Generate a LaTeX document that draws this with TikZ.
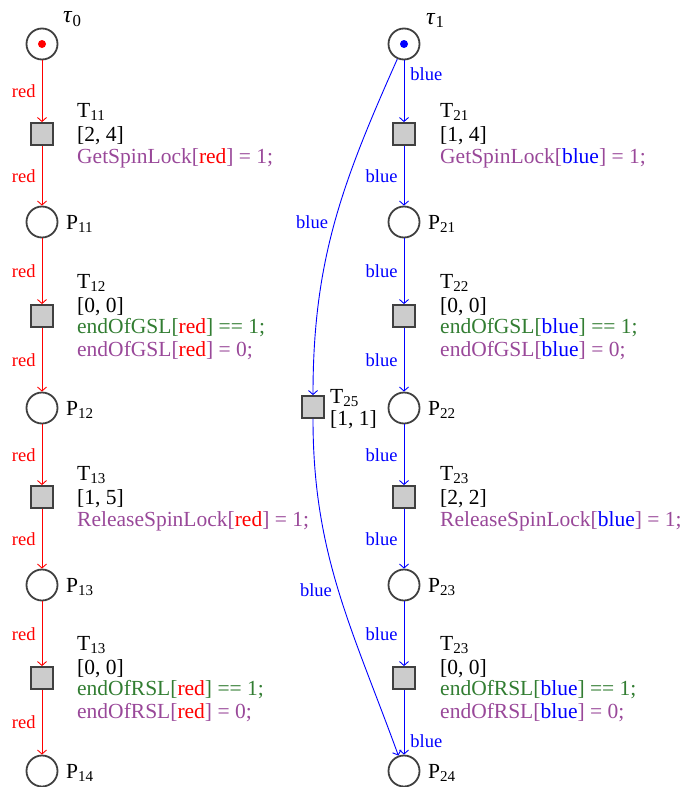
\documentclass[tikz,border=0pt]{standalone}
\usepackage{fontspec}
\setmainfont{Liberation Serif}
\usetikzlibrary{arrows.meta}
\definecolor{purp}{RGB}{153,72,153}
\definecolor{grn}{RGB}{50,125,50}
\definecolor{edgegray}{RGB}{64,64,64}
\newcommand\sbs[1]{\textsubscript{#1}}
\newcommand\pr[1]{\textcolor{purp}{#1}}
\newcommand\gr[1]{\textcolor{grn}{#1}}
\newcommand\rd{\textcolor{red}{red}}
\newcommand\bl{\textcolor{blue}{blue}}
\begin{document}
\begin{tikzpicture}[x=1pt,y=-1pt,
  place/.style={circle,draw=edgegray,line width=1.8pt,minimum size=31pt,inner sep=0pt},
  trans/.style={rectangle,draw=edgegray,line width=1.8pt,fill=black!20,minimum size=22pt,inner sep=0pt},
  txt/.style={anchor=base west,inner sep=0pt,font=\fontsize{21.5}{24}\selectfont},
  lbl/.style={font=\fontsize{18.5}{20}\selectfont,inner sep=6pt},
  rarc/.style={draw=red,line width=0.9pt,-{Straight Barb[length=4pt,width=9pt]}},
  barc/.style={draw=blue,line width=0.9pt,-{Straight Barb[length=4pt,width=9pt]}},
  token/.style={circle,inner sep=0pt,minimum size=8pt}]
\useasboundingbox (0,0) rectangle (684,787);

% ---------- left column ----------
\node[place] (tau0) at (42,44) {};
\node[token,fill=red] (tok0) at (42,44) {};
\node[trans] (T11) at (42,134) {};
\node[place] (P11) at (42,222) {};
\node[trans] (T12) at (42,316) {};
\node[place] (P12) at (42,408) {};
\node[trans] (T13) at (42,497) {};
\node[place] (P13) at (42,585) {};
\node[trans] (T14) at (42,678) {};
\node[place] (P14) at (42,771) {};

\node[txt,font=\fontsize{24}{26}\selectfont] (ltau0) at (63,23) {\textit{τ}\sbs{0}};
\node[txt] (lP11) at (66,229) {P\sbs{11}};
\node[txt] (lP12) at (66,415) {P\sbs{12}};
\node[txt] (lP13) at (66,592) {P\sbs{13}};
\node[txt] (lP14) at (66,778) {P\sbs{14}};

\node[txt] (a1) at (77,117) {T\sbs{11}};
\node[txt] (a2) at (77,141) {[2, 4]};
\node[txt] (a3) at (77,163) {\pr{GetSpinLock[}\rd\pr{] = 1;}};

\node[txt] (b1) at (77,288) {T\sbs{12}};
\node[txt] (b2) at (77,312) {[0, 0]};
\node[txt] (b3) at (77,333) {\gr{endOfGSL[}\rd\gr{] == 1;}};
\node[txt] (b4) at (77,356) {\pr{endOfGSL[}\rd\pr{] = 0;}};

\node[txt] (c1) at (77,480) {T\sbs{13}};
\node[txt] (c2) at (77,504) {[1, 5]};
\node[txt] (c3) at (77,526) {\pr{ReleaseSpinLock[}\rd\pr{] = 1;}};

\node[txt] (d1) at (77,650) {T\sbs{13}};
\node[txt] (d2) at (77,674) {[0, 0]};
\node[txt] (d3) at (77,695) {\gr{endOfRSL[}\rd\gr{] == 1;}};
\node[txt] (d4) at (77,718) {\pr{endOfRSL[}\rd\pr{] = 0;}};

\draw[rarc] (tau0) -- node[lbl,left,text=red] (e1) {red} (T11);
\draw[rarc] (T11) -- node[lbl,left,text=red] (e2) {red} (P11);
\draw[rarc] (P11) -- node[lbl,left,text=red] (e3) {red} (T12);
\draw[rarc] (T12) -- node[lbl,left,text=red] (e4) {red} (P12);
\draw[rarc] (P12) -- node[lbl,left,text=red] (e5) {red} (T13);
\draw[rarc] (T13) -- node[lbl,left,text=red] (e6) {red} (P13);
\draw[rarc] (P13) -- node[lbl,left,text=red] (e7) {red} (T14);
\draw[rarc] (T14) -- node[lbl,left,text=red] (e8) {red} (P14);

% ---------- right column ----------
\node[place] (tau1) at (404,44) {};
\node[token,fill=blue] (tok1) at (404,44) {};
\node[trans] (T21) at (404,134) {};
\node[place] (P21) at (404,222) {};
\node[trans] (T22) at (404,316) {};
\node[place] (P22) at (404,408) {};
\node[trans] (T23) at (404,497) {};
\node[place] (P23) at (404,585) {};
\node[trans] (T24) at (404,678) {};
\node[place] (P24) at (404,771) {};
\node[trans] (T25) at (313,407) {};

\node[txt,font=\fontsize{24}{26}\selectfont] (ltau1) at (426,24) {\textit{τ}\sbs{1}};
\node[txt] (lP21) at (428,229) {P\sbs{21}};
\node[txt] (lP22) at (428,415) {P\sbs{22}};
\node[txt] (lP23) at (428,592) {P\sbs{23}};
\node[txt] (lP24) at (428,778) {P\sbs{24}};

\node[txt] (f1) at (440,117) {T\sbs{21}};
\node[txt] (f2) at (440,141) {[1, 4]};
\node[txt] (f3) at (440,163) {\pr{GetSpinLock[}\bl\pr{] = 1;}};

\node[txt] (g1) at (440,288) {T\sbs{22}};
\node[txt] (g2) at (440,312) {[0, 0]};
\node[txt] (g3) at (440,333) {\gr{endOfGSL[}\bl\gr{] == 1;}};
\node[txt] (g4) at (440,356) {\pr{endOfGSL[}\bl\pr{] = 0;}};

\node[txt] (h1) at (440,480) {T\sbs{23}};
\node[txt] (h2) at (440,504) {[2, 2]};
\node[txt] (h3) at (440,526) {\pr{ReleaseSpinLock[}\bl\pr{] = 1;}};

\node[txt] (k1) at (440,650) {T\sbs{23}};
\node[txt] (k2) at (440,674) {[0, 0]};
\node[txt] (k3) at (440,695) {\gr{endOfRSL[}\bl\gr{] == 1;}};
\node[txt] (k4) at (440,718) {\pr{endOfRSL[}\bl\pr{] = 0;}};

\node[txt] (m1) at (330,403) {T\sbs{25}};
\node[txt] (m2) at (330,425) {[1, 1]};

\draw[barc] (tau1) -- node[lbl,right,text=blue,pos=0.23] (q1) {blue} (T21);
\draw[barc] (T21) -- node[lbl,left,text=blue] (q2) {blue} (P21);
\draw[barc] (P21) -- node[lbl,left,text=blue] (q3) {blue} (T22);
\draw[barc] (T22) -- node[lbl,left,text=blue] (q4) {blue} (P22);
\draw[barc] (P22) -- node[lbl,left,text=blue] (q5) {blue} (T23);
\draw[barc] (T23) -- node[lbl,left,text=blue] (q6) {blue} (P23);
\draw[barc] (P23) -- node[lbl,left,text=blue] (q7) {blue} (T24);
\draw[barc] (T24) -- node[lbl,right,text=blue,pos=0.8] (q8) {blue} (P24);

\draw[barc] (tau1) to[out=-114,in=90] node[lbl,left,text=blue] (q9) {blue} (T25);
\draw[barc] (T25) to[out=-90,in=110] node[lbl,left,text=blue] (q10) {blue} (P24);
\end{tikzpicture}
\end{document}
